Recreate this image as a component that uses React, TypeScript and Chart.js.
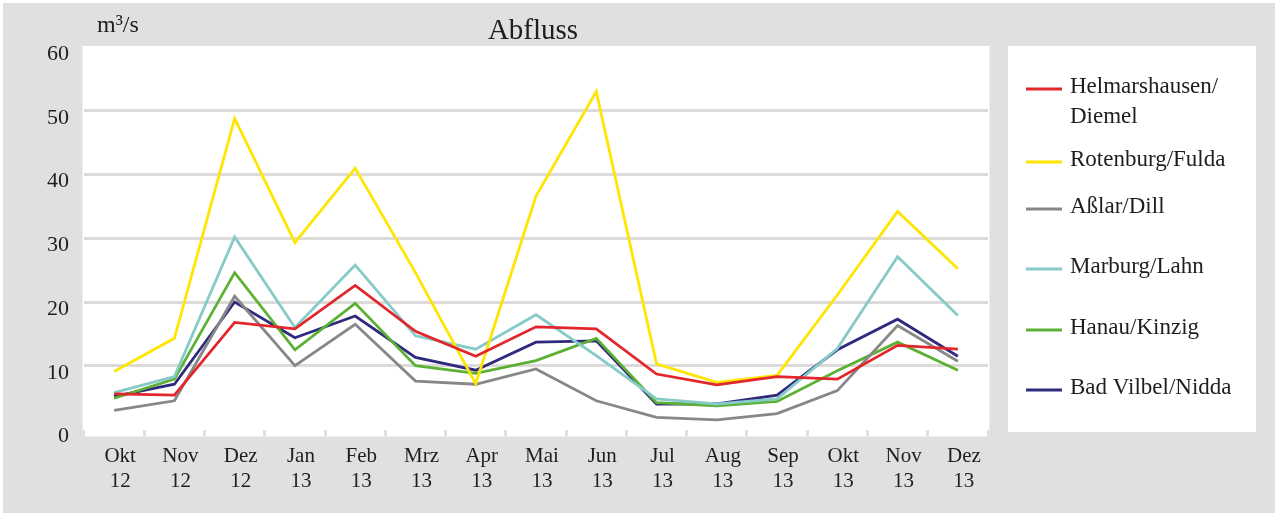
import React, { useEffect, useRef } from "react";
import { Chart, registerables } from "chart.js";

Chart.register(...registerables);

const monthLabels = ["Okt", "Nov", "Dez", "Jan", "Feb", "Mrz", "Apr", "Mai", "Jun", "Jul", "Aug", "Sep", "Okt", "Nov", "Dez"];
const yearLabels = ["12", "12", "12", "13", "13", "13", "13", "13", "13", "13", "13", "13", "13", "13", "13"];

const helmarshausen = [5.6, 5.4, 16.8, 15.8, 22.6, 15.4, 11.5, 16.1, 15.8, 8.7, 7.0, 8.3, 7.9, 13.2, 12.6];
const rotenburg = [9.1, 14.3, 48.8, 29.3, 41.0, 24.6, 7.2, 36.6, 53.0, 10.3, 7.4, 8.5, 21.1, 34.2, 25.2];
const asslar = [3.0, 4.5, 20.9, 10.0, 16.5, 7.6, 7.1, 9.5, 4.5, 1.9, 1.5, 2.5, 6.1, 16.3, 10.7];
const marburg = [5.8, 8.3, 30.2, 16.0, 25.8, 14.7, 12.6, 18.0, 11.6, 4.8, 4.0, 4.8, 12.7, 27.1, 17.9];
const hanau = [4.9, 7.9, 24.6, 12.5, 19.8, 10.0, 8.8, 10.8, 14.3, 4.2, 3.7, 4.4, 9.2, 13.7, 9.3];
const badVilbel = [5.2, 7.1, 20.0, 14.4, 17.8, 11.3, 9.3, 13.7, 13.9, 4.0, 4.0, 5.4, 12.5, 17.3, 11.5];

const seriesNames = [["Helmarshausen/", "Diemel"], ["Rotenburg/Fulda"], ["Aßlar/Dill"], ["Marburg/Lahn"], ["Hanau/Kinzig"], ["Bad Vilbel/Nidda"]];
const seriesColors = ["#e3262b", "#ffe600", "#878787", "#86cbc8", "#5cb135", "#302a7e"];
const seriesValues = [helmarshausen, rotenburg, asslar, marburg, hanau, badVilbel];

const chartTitle = "Abfluss";
const unitLabel = "m³/s";

const FONT = "'Liberation Serif', 'Times New Roman', serif";
const BG_GRAY = "#e1e0df";
const GRID_GRAY = "#dcdbda";
const TEXT = "#1e1e1e";
const W = 1275;
const H = 513;

const legendYs = [[87, 117], [160], [207], [267], [328], [388]];

const decorPlugin = {
  id: "decor",
  beforeDraw(chart: any) {
    const { ctx, chartArea } = chart;
    ctx.save();
    ctx.fillStyle = "#ffffff";
    ctx.fillRect(0, 0, W, H);
    ctx.fillStyle = BG_GRAY;
    ctx.fillRect(3, 3, W - 3, H - 3);
    ctx.fillStyle = "#ffffff";
    ctx.fillRect(chartArea.left - 1.5, chartArea.top - 1, chartArea.right - chartArea.left + 3, chartArea.bottom + 7 - chartArea.top + 1);
    ctx.fillRect(1008, 46, 248, 386);
    ctx.restore();
  },
  afterDraw(chart: any) {
    const { ctx } = chart;
    ctx.save();
    ctx.fillStyle = TEXT;
    ctx.textBaseline = "alphabetic";
    ctx.textAlign = "center";
    ctx.font = `29px ${FONT}`;
    ctx.fillText(chartTitle, 533, 39);
    ctx.textAlign = "left";
    ctx.font = `24px ${FONT}`;
    ctx.fillText(unitLabel, 97, 32);
    // legend
    ctx.font = `23px ${FONT}`;
    ctx.textBaseline = "middle";
    chart.data.datasets.forEach((ds: any, i: number) => {
      const ys = legendYs[i];
      const lines: string[] = seriesNames[i];
      ctx.strokeStyle = ds.borderColor;
      ctx.lineWidth = 3;
      ctx.beginPath();
      ctx.moveTo(1026, ys[0] + 2);
      ctx.lineTo(1062, ys[0] + 2);
      ctx.stroke();
      ctx.fillStyle = TEXT;
      lines.forEach((t, j) => ctx.fillText(t, 1070, ys[j]));
    });
    ctx.restore();
  },
};

export default function App() {
  const ref = useRef<HTMLCanvasElement | null>(null);
  useEffect(() => {
    document.body.style.margin = "0";
    if (!ref.current) return;
    const labels = monthLabels.map((m, i) => [m, yearLabels[i]]);
    const chart = new Chart(ref.current, {
      type: "line",
      data: {
        labels,
        datasets: seriesValues.map((vals, i) => ({
          label: seriesNames[i].join(""),
          data: vals,
          borderColor: seriesColors[i],
          backgroundColor: seriesColors[i],
          borderWidth: 2.8,
          pointRadius: 0,
          tension: 0,
          fill: false,
        })),
      },
      options: {
        responsive: false,
        animation: false,
        devicePixelRatio: 1,
        layout: { padding: { top: 47, right: 287, left: 0, bottom: 0 } },
        plugins: {
          legend: { display: false },
          title: { display: false },
          tooltip: { enabled: false },
        },
        scales: {
          x: {
            type: "category",
            offset: true,
            afterFit: (s: any) => {
              s.height = 83.5;
            },
            grid: {
              offset: true,
              drawOnChartArea: false,
              drawTicks: true,
              tickLength: 7,
              color: BG_GRAY,
              lineWidth: 3,
            },
            border: { display: false },
            ticks: {
              color: TEXT,
              font: { family: FONT, size: 21 },
              padding: 7,
              labelOffset: 6,
              maxRotation: 0,
              autoSkip: false,
            },
          },
          y: {
            min: 0,
            max: 60,
            afterFit: (s: any) => {
              s.width = 84;
            },
            grid: {
              drawTicks: false,
              lineWidth: 3,
              color: (c: any) => (c.tick && (c.tick.value === 0 || c.tick.value === 60) ? "rgba(0,0,0,0)" : GRID_GRAY),
            },
            border: { display: false },
            ticks: {
              stepSize: 10,
              color: TEXT,
              font: { family: FONT, size: 22 },
              padding: 15,
              labelOffset: 7,
            },
          },
        },
      },
      plugins: [decorPlugin],
    });
    return () => chart.destroy();
  }, []);
  return (
    <div style={{ width: W, height: H }}>
      <canvas ref={ref} width={W} height={H} style={{ display: "block", width: W, height: H }} />
    </div>
  );
}
